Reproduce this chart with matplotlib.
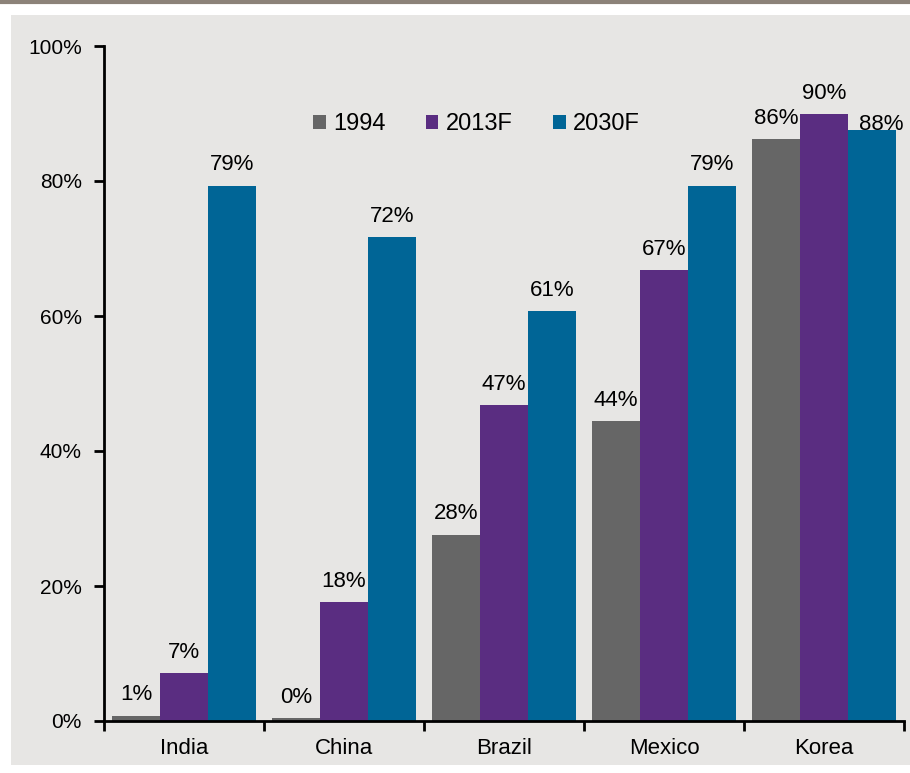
import matplotlib.pyplot as plt
import numpy as np
from matplotlib.patches import Rectangle

plt.rcParams.update({
    "font.family": ["Liberation Sans", "DejaVu Sans"],
    "font.size": 15,
})

countries = ["India", "China", "Brazil", "Mexico", "Korea"]
series = ["1994", "2013F", "2030F"]
v1994 = [0.8, 0.4, 27.6, 44.4, 86.2]
v2013 = [7.1, 17.6, 46.8, 66.8, 89.9]
v2030 = [79.3, 71.7, 60.7, 79.3, 87.6]
colors = ["#666666", "#5a2d81", "#006596"]

bg = "#e7e6e4"

fig = plt.figure(figsize=(9.1, 7.73), dpi=100)
fig.patch.set_facecolor("white")
# grey panel and top rule
fig.add_artist(Rectangle((11 / 910, 8 / 773), 1.0, 1 - 23 / 773, transform=fig.transFigure,
                         facecolor=bg, edgecolor="none", zorder=-5))
fig.add_artist(plt.Line2D([0, 1], [1 - 1.5 / 773, 1 - 1.5 / 773], transform=fig.transFigure,
                          color="#8c8279", linewidth=3))

ax = fig.add_axes([104 / 910, 1 - 721 / 773, 800 / 910, (721 - 46) / 773])
ax.set_facecolor(bg)

x = np.arange(len(countries))
w = 0.3
bars = []
for i, (vals, name) in enumerate(zip([v1994, v2013, v2030], series)):
    b = ax.bar(x + (i - 1) * w, vals, width=w, color=colors[i], label=name, zorder=2)
    bars.append(b)

# value labels above each bar
for i, b in enumerate(bars):
    for j, rect in enumerate(b):
        val = rect.get_height()
        dx, dy = 0, 11
        if countries[j] == "Korea" and series[i] == "2030F":
            dx, dy = 7, 0
        ax.annotate(f"{val:.0f}%", (rect.get_x() + rect.get_width() / 2, val),
                    xytext=(dx, dy), textcoords="offset points",
                    ha="center", va="baseline", fontsize=16, zorder=3)

ax.set_xlim(-0.5, len(countries) - 0.5)
ax.set_ylim(0, 100)
ax.set_yticks(np.arange(0, 101, 20))
ax.set_yticklabels([f"{t}%" for t in range(0, 101, 20)])
ax.set_xticks(x)
ax.set_xticklabels(countries, fontsize=16)
ax.set_xticks(np.arange(-0.5, len(countries), 1), minor=True)
ax.tick_params(axis="x", which="major", length=0, pad=12)
ax.tick_params(axis="x", which="minor", length=7, width=2, direction="out")
ax.tick_params(axis="y", length=7, width=2, direction="out", pad=9)

for s in ["top", "right"]:
    ax.spines[s].set_visible(False)
for s in ["left", "bottom"]:
    ax.spines[s].set_linewidth(2)

ax.legend(loc="center left", bbox_to_anchor=(0.261, 0.884), ncol=3, frameon=False,
          borderpad=0, borderaxespad=0,
          handlelength=0.55, handleheight=0.55, handletextpad=0.3, columnspacing=1.7,
          fontsize=17)

fig.savefig("out.png", dpi=100, facecolor=fig.get_facecolor())
